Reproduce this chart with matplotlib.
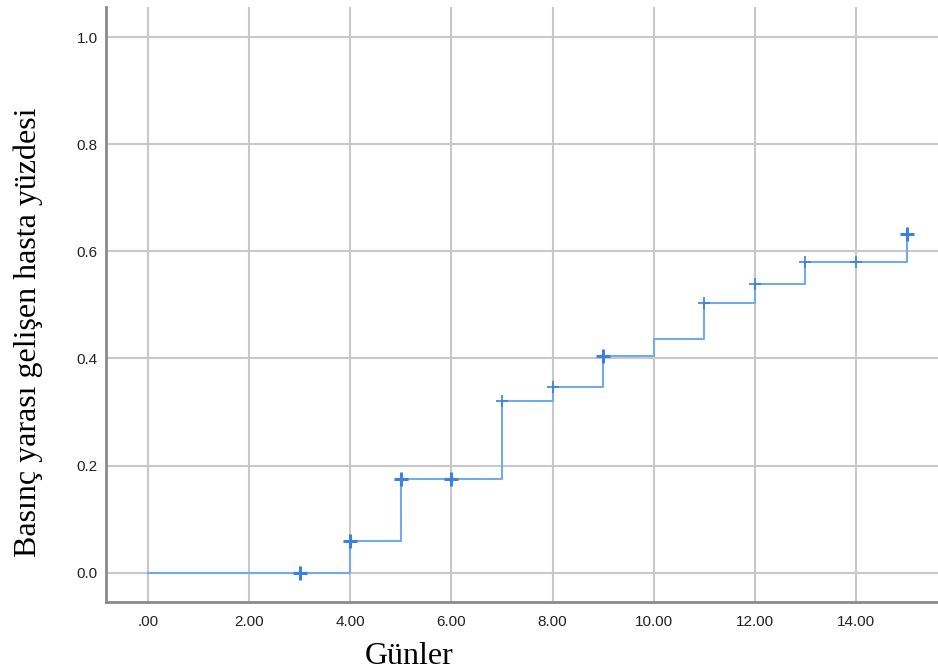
import numpy as np
import matplotlib
matplotlib.use("Agg")
from matplotlib import pyplot as plt

# step curve: event times and cumulative proportion after each jump
step_times = [0, 4, 5, 7, 8, 9, 10, 11, 12, 13, 15]
step_values = [0.0, 0.059, 0.174, 0.320, 0.347, 0.405, 0.437, 0.504, 0.540, 0.580, 0.633]

# censored observations (bold = several at same time)
cens_times = [3, 4, 5, 6, 9, 15]
cens_values = [0.0, 0.059, 0.174, 0.174, 0.405, 0.633]
cens_times_thin = [7, 8, 11, 12, 13, 14]
cens_values_thin = [0.320, 0.347, 0.504, 0.540, 0.580, 0.580]

xticks = [0, 2, 4, 6, 8, 10, 12, 14]
xticklabels = [".00", "2.00", "4.00", "6.00", "8.00", "10.00", "12.00", "14.00"]
yticks = [0.0, 0.2, 0.4, 0.6, 0.8, 1.0]

fig = plt.figure(figsize=(9.38, 6.72), dpi=100)
ax = fig.add_axes([0.113, 0.104, 0.887, 0.886])

line_col = "#74a9ea"
mark_col = "#3f80dc"

ax.step(step_times, step_values, where="post", color=line_col, lw=1.5, zorder=3)
ax.plot(cens_times, cens_values, ls="none", marker="+", ms=10, mew=2.2,
        color=mark_col, zorder=4)
ax.plot(cens_times_thin, cens_values_thin, ls="none", marker="+", ms=9, mew=1.2,
        color=mark_col, zorder=4)

ax.set_xlim(-0.83, 15.62)
ax.set_ylim(-0.055, 1.057)
ax.set_xticks(xticks)
ax.set_xticklabels(xticklabels)
ax.set_yticks(yticks)
ax.set_yticklabels(["%.1f" % v for v in yticks])
ax.tick_params(length=0, labelsize=11, colors="#222222")
ax.tick_params(axis="x", pad=9)
ax.tick_params(axis="y", pad=6)
for lab in ax.get_xticklabels() + ax.get_yticklabels():
    lab.set_family("Liberation Sans")

ax.grid(True, color="#c8c8c8", lw=1.5, zorder=0)
ax.set_axisbelow(True)

for s in ["top", "right"]:
    ax.spines[s].set_visible(False)
for s in ["left", "bottom"]:
    ax.spines[s].set_color("#8a8a8a")
    ax.spines[s].set_linewidth(2)

ax.set_xlabel("Günler", family="Liberation Serif", fontsize=23)
ax.set_ylabel("Basınç yarası gelişen hasta yüzdesi", family="Liberation Serif",
              fontsize=23)
ax.xaxis.set_label_coords(0.364, -0.067)
ax.yaxis.set_label_coords(-0.076, 0.454)

fig.savefig("out.png", dpi=100)
